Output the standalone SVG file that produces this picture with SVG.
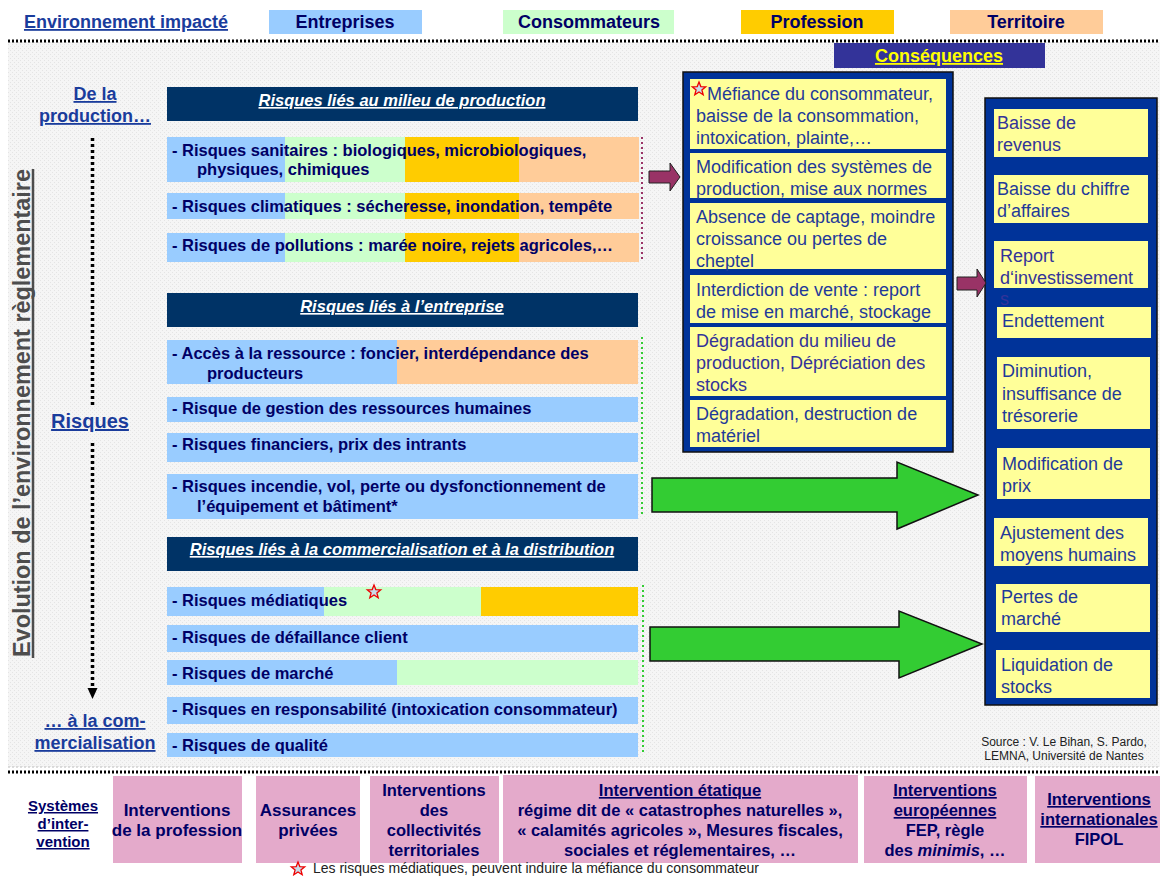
<svg xmlns="http://www.w3.org/2000/svg" width="1160" height="876" viewBox="0 0 1160 876">
<defs>
<pattern id="tex" width="4" height="4" patternUnits="userSpaceOnUse">
<rect width="4" height="4" fill="#f5f5f5"/>
<rect x="0" y="0" width="1" height="1" fill="#e4e4e4"/>
<rect x="2" y="2" width="1" height="1" fill="#e4e4e4"/>
</pattern>
<path id="star" d="M0,-7 L1.8,-2.4 L6.7,-2.2 L2.9,0.9 L4.2,5.7 L0,3 L-4.2,5.7 L-2.9,0.9 L-6.7,-2.2 L-1.8,-2.4 Z"/>
</defs>
<style>
text{font-family:"Liberation Sans",Arial,sans-serif}
.leg{font-size:18px;font-weight:bold;fill:#000066;text-anchor:middle}
.lbl{font-weight:bold;fill:#1a3c9c;text-decoration:underline;text-anchor:middle}
.hdr{fill:#003366}
.hdrt{font-size:16.5px;font-weight:bold;font-style:italic;fill:#ffffff;text-decoration:underline;text-anchor:middle}
.rt{font-size:16.5px;font-weight:bold;fill:#000066}
.b{fill:#99ccff}.g{fill:#ccffcc}.y{fill:#ffcc00}.p{fill:#ffcc99}
.navy{fill:#003399;stroke:#111;stroke-width:1.5}
.yb{fill:#ffff99}
.ct{font-size:18px;fill:#1f3a99}
.ct2{font-size:18px;fill:#333399}
.pink{fill:#e4aacb}
.bt{font-size:16.5px;font-weight:bold;fill:#000066;text-anchor:middle}
.u{text-decoration:underline}
.pa{fill:#993366;stroke:#222;stroke-width:1}
.ga{fill:#33cc33;stroke:#111;stroke-width:1.5}
.st{fill:#c8dbe8;stroke:#ee0000;stroke-width:1.3}
</style>

<!-- background -->
<rect x="0" y="0" width="1160" height="876" fill="#ffffff"/>
<rect x="8" y="42" width="1152" height="725" fill="url(#tex)"/>
<line x1="8" y1="767" x2="1160" y2="767" stroke="#bbbbbb" stroke-width="1" stroke-dasharray="2 2"/>

<!-- header legend -->
<g id="legend">
<text class="lbl" x="126" y="28" style="font-size:18px">Environnement impacté</text>
<rect x="269" y="10" width="153" height="24" class="b"/>
<text class="leg" x="345" y="28">Entreprises</text>
<rect x="503" y="10" width="171" height="24" class="g"/>
<text class="leg" x="589" y="28">Consommateurs</text>
<rect x="741" y="10" width="153" height="24" class="y"/>
<text class="leg" x="817" y="28">Profession</text>
<rect x="950" y="10" width="153" height="24" class="p"/>
<text class="leg" x="1026" y="28">Territoire</text>
</g>
<line x1="8" y1="41" x2="1160" y2="41" stroke="#000" stroke-width="3" stroke-dasharray="2 2"/>
<line x1="8" y1="772" x2="1160" y2="772" stroke="#000" stroke-width="3" stroke-dasharray="2 2"/>

<g id="consequences-title">
<rect x="834" y="43" width="211" height="25" fill="#333399"/>
<text x="939" y="62" style="font-size:18px;font-weight:bold;fill:#ffff00;text-decoration:underline;text-anchor:middle">Conséquences</text>
</g>

<!-- left axis -->
<g id="axis">
<text transform="translate(30,413) rotate(-90)" textLength="488" lengthAdjust="spacingAndGlyphs" style="font-size:23px;font-weight:bold;fill:#4d4d4d;text-anchor:middle">Evolution de l’environnement règlementaire</text>
<line x1="33" y1="169" x2="33" y2="658" stroke="#4d4d4d" stroke-width="2.5"/>
<text class="lbl" x="95" y="100" style="font-size:18px">De la</text>
<text class="lbl" x="95" y="122" style="font-size:18px">production…</text>
<text class="lbl" x="90" y="428" style="font-size:20px">Risques</text>
<text class="lbl" x="95" y="727" style="font-size:18px">… à la com-</text>
<text class="lbl" x="95" y="749" style="font-size:18px">mercialisation</text>
</g>

<!-- section 1 -->
<g id="sec1">
<rect x="167" y="87" width="471" height="34" class="hdr"/>
<text class="hdrt" x="402" y="106">Risques liés au milieu de production</text>
</g>
<g id="r-sanitaires">
<rect x="167" y="137" width="118" height="45" class="b"/><rect x="285" y="137" width="120" height="45" class="g"/><rect x="405" y="137" width="114" height="45" class="y"/><rect x="519" y="137" width="120" height="45" class="p"/>
<text class="rt" x="172" y="156">- Risques sanitaires : biologiques, microbiologiques,</text>
<text class="rt" x="197" y="175">physiques, chimiques</text>
</g>
<g id="r-climatiques">
<rect x="167" y="193" width="118" height="26" class="b"/><rect x="285" y="193" width="120" height="26" class="g"/><rect x="405" y="193" width="114" height="26" class="y"/><rect x="519" y="193" width="120" height="26" class="p"/>
<text class="rt" x="172" y="212">- Risques climatiques : sécheresse, inondation, tempête</text>
</g>
<g id="r-pollutions">
<rect x="167" y="233" width="118" height="29" class="b"/><rect x="285" y="233" width="120" height="29" class="g"/><rect x="405" y="233" width="114" height="29" class="y"/><rect x="519" y="233" width="120" height="29" class="p"/>
<text class="rt" x="172" y="251">- Risques de pollutions : marée noire, rejets agricoles,…</text>
</g>

<!-- section 2 -->
<g id="sec2">
<rect x="167" y="293" width="471" height="34" class="hdr"/>
<text class="hdrt" x="402" y="312">Risques liés à l’entreprise</text>
</g>
<g id="r-acces">
<rect x="167" y="340" width="230" height="44" class="b"/><rect x="397" y="340" width="241" height="44" class="p"/>
<text class="rt" x="172" y="359">- Accès à la ressource : foncier, interdépendance des</text>
<text class="rt" x="207" y="379">producteurs</text>
</g>
<g id="r-rh">
<rect x="167" y="397" width="471" height="25" class="b"/>
<text class="rt" x="172" y="414">- Risque de gestion des ressources humaines</text>
</g>
<g id="r-fin">
<rect x="167" y="433" width="471" height="29" class="b"/>
<text class="rt" x="172" y="450">- Risques financiers, prix des intrants</text>
</g>
<g id="r-incendie">
<rect x="167" y="474" width="471" height="45" class="b"/>
<text class="rt" x="172" y="492">- Risques incendie, vol, perte ou dysfonctionnement de</text>
<text class="rt" x="197" y="512">l’équipement et bâtiment*</text>
</g>

<!-- section 3 -->
<g id="sec3">
<rect x="167" y="537" width="471" height="34" class="hdr"/>
<text class="hdrt" x="402" y="555">Risques liés à la commercialisation et à la distribution</text>
</g>
<g id="r-mediatiques">
<rect x="167" y="587" width="157" height="29" class="b"/><rect x="324" y="587" width="157" height="29" class="g"/><rect x="481" y="587" width="157" height="29" class="y"/>
<text class="rt" x="172" y="606">- Risques médiatiques</text>
<use href="#star" x="374" y="592" class="st"/>
</g>
<g id="r-defaillance">
<rect x="167" y="625" width="471" height="27" class="b"/>
<text class="rt" x="172" y="643">- Risques de défaillance client</text>
</g>
<g id="r-marche">
<rect x="167" y="660" width="230" height="25" class="b"/><rect x="397" y="660" width="241" height="25" class="g"/>
<text class="rt" x="172" y="679">- Risques de marché</text>
</g>
<g id="r-responsabilite">
<rect x="167" y="697" width="471" height="27" class="b"/>
<text class="rt" x="172" y="715">- Risques en responsabilité (intoxication consommateur)</text>
</g>
<g id="r-qualite">
<rect x="167" y="733" width="471" height="24" class="b"/>
<text class="rt" x="172" y="751">- Risques de qualité</text>
</g>

<!-- middle consequences -->
<g id="conseq-mid">
<rect x="683" y="72" width="270" height="380" class="navy"/>
<rect x="690" y="79" width="256" height="70" class="yb"/>
<use href="#star" x="699" y="89" class="st"/>
<text class="ct" x="707" y="100">Méfiance du consommateur,</text>
<text class="ct" x="696" y="122">baisse de la consommation,</text>
<text class="ct" x="696" y="144">intoxication, plainte,…</text>
<rect x="690" y="153" width="256" height="45" class="yb"/>
<text class="ct" x="696" y="173">Modification des systèmes de</text>
<text class="ct" x="696" y="195">production, mise aux normes</text>
<rect x="690" y="203" width="256" height="66" class="yb"/>
<text class="ct" x="696" y="223">Absence de captage, moindre</text>
<text class="ct" x="696" y="245">croissance ou pertes de</text>
<text class="ct" x="696" y="267">cheptel</text>
<rect x="690" y="275" width="256" height="48" class="yb"/>
<text class="ct" x="696" y="296">Interdiction de vente : report</text>
<text class="ct" x="696" y="318">de mise en marché, stockage</text>
<rect x="690" y="327" width="256" height="69" class="yb"/>
<text class="ct2" x="696" y="347">Dégradation du milieu de</text>
<text class="ct2" x="696" y="369">production, Dépréciation des</text>
<text class="ct2" x="696" y="391">stocks</text>
<rect x="690" y="400" width="256" height="47" class="yb"/>
<text class="ct" x="696" y="420">Dégradation, destruction de</text>
<text class="ct" x="696" y="442">matériel</text>
</g>

<!-- right consequences -->
<g id="conseq-right">
<rect x="985" y="98" width="172" height="607" class="navy"/>
<rect x="994" y="109" width="154" height="48" class="yb"/>
<text class="ct2" x="997" y="129">Baisse de</text>
<text class="ct2" x="997" y="151">revenus</text>
<rect x="994" y="175" width="154" height="48" class="yb"/>
<text class="ct" x="997" y="195">Baisse du chiffre</text>
<text class="ct" x="997" y="217">d’affaires</text>
<rect x="994" y="241" width="154" height="47" class="yb"/>
<text class="ct2" x="1000" y="262">Report</text>
<text class="ct2" x="1000" y="284">d‘investissement</text>
<text class="ct2" x="1000" y="305">s</text>
<rect x="997" y="307" width="154" height="31" class="yb"/>
<text class="ct" x="1002" y="327">Endettement</text>
<rect x="997" y="357" width="153" height="72" class="yb"/>
<text class="ct" x="1002" y="377">Diminution,</text>
<text class="ct" x="1002" y="400">insuffisance de</text>
<text class="ct" x="1002" y="422">trésorerie</text>
<rect x="997" y="448" width="153" height="51" class="yb"/>
<text class="ct" x="1002" y="470">Modification de</text>
<text class="ct" x="1002" y="492">prix</text>
<rect x="994" y="518" width="154" height="48" class="yb"/>
<text class="ct" x="1000" y="539">Ajustement des</text>
<text class="ct" x="1000" y="561">moyens humains</text>
<rect x="996" y="584" width="154" height="48" class="yb"/>
<text class="ct" x="1001" y="603">Pertes de</text>
<text class="ct" x="1001" y="625">marché</text>
<rect x="996" y="650" width="154" height="48" class="yb"/>
<text class="ct" x="1001" y="671">Liquidation de</text>
<text class="ct" x="1001" y="693">stocks</text>
</g>

<!-- connectors -->
<g id="connectors">
<line x1="92.5" y1="138" x2="92.5" y2="405" stroke="#000" stroke-width="3.5" stroke-dasharray="3 3"/>
<line x1="92.5" y1="443" x2="92.5" y2="688" stroke="#000" stroke-width="3.5" stroke-dasharray="3 3"/>
<path d="M87.5,688 L97.5,688 L92.5,699 Z" fill="#000"/>
<line x1="642" y1="137" x2="642" y2="260" stroke="#993366" stroke-width="2" stroke-dasharray="2 3"/>
<line x1="642" y1="337" x2="642" y2="517" stroke="#33cc33" stroke-width="2" stroke-dasharray="2 3"/>
<line x1="643" y1="585" x2="643" y2="754" stroke="#33cc33" stroke-width="2" stroke-dasharray="2 3"/>
<path class="pa" d="M649,171 H670 V163 L680,177 L670,191 V183 H649 Z"/>
<path class="pa" d="M957,277 H977 V269 L986,283 L977,297 V290 H957 Z"/>
<path class="ga" d="M652,478 H897 V462 L978,495 L897,529 V512 H652 Z"/>
<path class="ga" d="M650,627 H899 V611 L982,644 L899,678 V661 H650 Z"/>
</g>

<g id="source">
<text x="1064" y="746" style="font-size:12px;fill:#222;text-anchor:middle">Source : V. Le Bihan, S. Pardo,</text>
<text x="1064" y="760" style="font-size:12px;fill:#222;text-anchor:middle">LEMNA, Université de Nantes</text>
</g>

<!-- bottom: intervention systems -->
<g id="sys-label">
<text x="63" y="811" class="u" style="font-size:15px;font-weight:bold;fill:#000066;text-anchor:middle">Systèmes</text>
<text x="63" y="829" class="u" style="font-size:15px;font-weight:bold;fill:#000066;text-anchor:middle">d’inter-</text>
<text x="63" y="847" class="u" style="font-size:15px;font-weight:bold;fill:#000066;text-anchor:middle">vention</text>
</g>
<g id="box-profession">
<rect x="113" y="776" width="129" height="87" class="pink"/>
<text class="bt" x="177" y="816" style="font-size:17px">Interventions</text>
<text class="bt" x="177" y="836" style="font-size:17px">de la profession</text>
</g>
<g id="box-assurances">
<rect x="256" y="776" width="104" height="87" class="pink"/>
<text class="bt" x="308" y="816" style="font-size:17px">Assurances</text>
<text class="bt" x="308" y="836" style="font-size:17px">privées</text>
</g>
<g id="box-collectivites">
<rect x="370" y="776" width="129" height="87" class="pink"/>
<text class="bt" x="434" y="796">Interventions</text>
<text class="bt" x="434" y="816">des</text>
<text class="bt" x="434" y="836">collectivités</text>
<text class="bt" x="434" y="856">territoriales</text>
</g>
<g id="box-etat">
<rect x="503" y="775" width="355" height="88" class="pink"/>
<text class="bt u" x="680" y="796">Intervention étatique</text>
<text class="bt" x="680" y="816">régime dit de « catastrophes naturelles »,</text>
<text class="bt" x="680" y="836">« calamités agricoles », Mesures fiscales,</text>
<text class="bt" x="680" y="856">sociales et réglementaires, …</text>
</g>
<g id="box-europe">
<rect x="864" y="776" width="163" height="87" class="pink"/>
<text class="bt u" x="945" y="796">Interventions</text>
<text class="bt u" x="945" y="816">européennes</text>
<text class="bt" x="945" y="836">FEP, règle</text>
<text class="bt" x="945" y="856">des <tspan font-style="italic">minimis</tspan>, …</text>
</g>
<g id="box-international">
<rect x="1035" y="776" width="125" height="87" class="pink"/>
<text class="bt u" x="1099" y="805">Interventions</text>
<text class="bt u" x="1099" y="825">internationales</text>
<text class="bt" x="1099" y="845">FIPOL</text>
</g>

<g id="footnote">
<use href="#star" x="298" y="869" class="st"/>
<text x="313" y="873" style="font-size:14px;fill:#222">Les risques médiatiques, peuvent induire la méfiance du consommateur</text>
</g>
</svg>
